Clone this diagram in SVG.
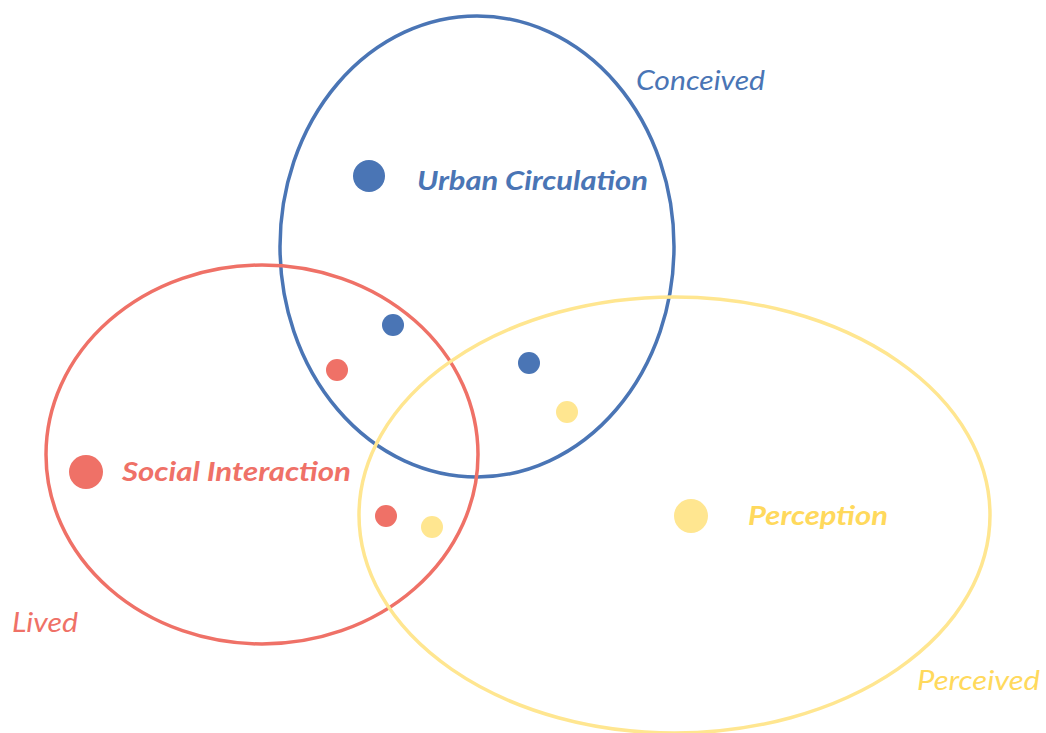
<svg xmlns="http://www.w3.org/2000/svg" width="1046" height="733" viewBox="0 0 1046 733">
<style>
.ring{fill:none;stroke-width:3.5}
.t{font-family:Lato,"Open Sans","Liberation Sans",sans-serif;font-style:italic;font-size:27px}
.b{font-weight:bold}
.blue{fill:#4A75B5}.red{fill:#EF7167}.yel{fill:#FFE690}.yt{fill:#FFD95C}
</style>
<rect width="1046" height="733" fill="#fff"/>
<g id="connectors"></g>
<g id="conceived">
<ellipse class="ring" cx="477" cy="246.5" rx="197" ry="230.5" stroke="#4A75B5"/>
<text class="t blue" x="636" y="90" textLength="129" lengthAdjust="spacingAndGlyphs">Conceived</text>
</g>
<g id="lived">
<ellipse class="ring" cx="262" cy="454.5" rx="216" ry="189.5" stroke="#EF7167"/>
<text class="t red" x="12" y="632" textLength="66" lengthAdjust="spacingAndGlyphs">Lived</text>
</g>
<g id="perceived">
<ellipse class="ring" cx="674.5" cy="515" rx="315.5" ry="218" stroke="#FFE690"/>
<text class="t yt" x="917" y="690" textLength="123" lengthAdjust="spacingAndGlyphs">Perceived</text>
</g>
<g id="urban-circulation">
<circle class="blue" cx="369" cy="176" r="16"/>
<text class="t b blue" x="417" y="190" textLength="231" lengthAdjust="spacingAndGlyphs">Urban Circulation</text>
</g>
<g id="social-interaction">
<circle class="red" cx="86" cy="472" r="17"/>
<text class="t b red" x="122" y="481" textLength="229" lengthAdjust="spacingAndGlyphs">Social Interaction</text>
</g>
<g id="perception">
<circle class="yel" cx="691" cy="516" r="17"/>
<text class="t b yt" x="748" y="525" textLength="140" lengthAdjust="spacingAndGlyphs">Perception</text>
</g>
<g id="dots">
<circle class="blue" cx="393" cy="325" r="11"/>
<circle class="blue" cx="529" cy="363" r="11"/>
<circle class="red" cx="337" cy="370" r="11"/>
<circle class="red" cx="386" cy="516" r="11"/>
<circle class="yel" cx="567" cy="412" r="11"/>
<circle class="yel" cx="432" cy="527" r="11"/>
</g>
</svg>
